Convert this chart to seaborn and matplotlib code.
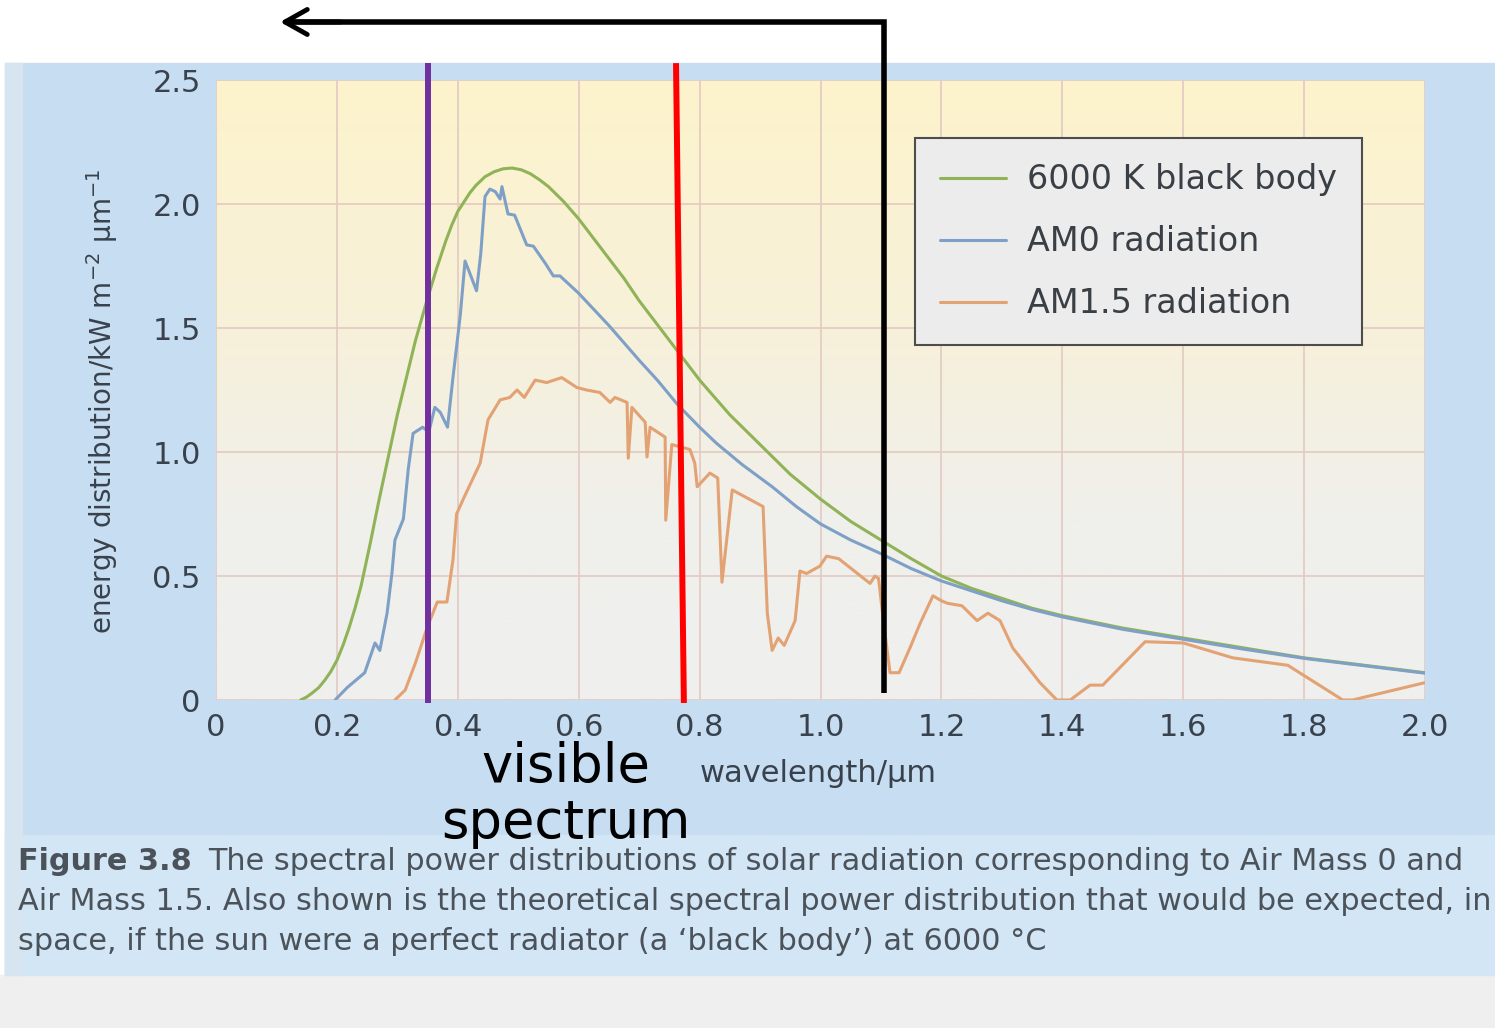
import numpy as np
import pandas as pd
import matplotlib
matplotlib.use("Agg")
import matplotlib.pyplot as plt
import seaborn as sns
from matplotlib.patches import Rectangle
from matplotlib.colors import LinearSegmentedColormap

# ---- data (wavelength in um, energy in kW m-2 um-1) ----
bb_wl = [0.14, 0.15, 0.16, 0.17, 0.18, 0.19, 0.2, 0.21, 0.22, 0.23, 0.24, 0.255, 0.27,
         0.285, 0.3, 0.315, 0.33, 0.35, 0.365, 0.38, 0.39, 0.4, 0.42, 0.43, 0.445,
         0.46, 0.475, 0.49, 0.505, 0.52, 0.535, 0.55, 0.575, 0.6, 0.625, 0.65, 0.675,
         0.7, 0.725, 0.75, 0.775, 0.8, 0.825, 0.85, 0.9, 0.95, 1.0, 1.05, 1.1, 1.15,
         1.2, 1.25, 1.3, 1.35, 1.4, 1.45, 1.5, 1.6, 1.7, 1.8, 1.9, 2.0]
bb_val = [0.0, 0.012, 0.03, 0.05, 0.08, 0.115, 0.16, 0.22, 0.29, 0.37, 0.46, 0.63, 0.81,
          0.98, 1.15, 1.3, 1.45, 1.62, 1.74, 1.85, 1.915, 1.97, 2.045, 2.075, 2.11,
          2.13, 2.142, 2.145, 2.138, 2.122, 2.098, 2.07, 2.01, 1.94, 1.86, 1.78, 1.70,
          1.61, 1.53, 1.45, 1.37, 1.29, 1.22, 1.15, 1.03, 0.91, 0.81, 0.72, 0.645, 0.57,
          0.5, 0.45, 0.41, 0.37, 0.34, 0.315, 0.29, 0.25, 0.21, 0.17, 0.14, 0.11]

am0_wl = [0.197, 0.217, 0.246, 0.263, 0.271, 0.283, 0.291, 0.296, 0.31, 0.318, 0.326,
          0.342, 0.352, 0.362, 0.371, 0.383, 0.392, 0.404, 0.412, 0.42, 0.431, 0.438,
          0.445, 0.453, 0.462, 0.47, 0.473, 0.483, 0.494, 0.514, 0.525, 0.545, 0.558,
          0.569, 0.6, 0.65, 0.7, 0.73, 0.764, 0.8, 0.828, 0.87, 0.92, 0.96, 1.0, 1.05,
          1.1, 1.15, 1.2, 1.25, 1.3, 1.35, 1.4, 1.5, 1.6, 1.7, 1.8, 1.9, 2.0]
am0_val = [0.0, 0.05, 0.11, 0.23, 0.2, 0.35, 0.51, 0.645, 0.73, 0.93, 1.075,
           1.1, 1.08, 1.18, 1.16, 1.1, 1.3, 1.55, 1.77, 1.72, 1.65, 1.8,
           2.03, 2.06, 2.05, 2.02, 2.07, 1.96, 1.955, 1.835, 1.83, 1.76, 1.71,
           1.71, 1.64, 1.51, 1.37, 1.29, 1.19, 1.10, 1.035, 0.95, 0.86, 0.78, 0.71, 0.645,
           0.59, 0.53, 0.48, 0.44, 0.40, 0.365, 0.335, 0.285, 0.245, 0.205, 0.168, 0.138,
           0.108]

am15_wl = [0.296, 0.313, 0.33, 0.349, 0.366, 0.382, 0.392, 0.398, 0.409, 0.437, 0.45,
           0.46, 0.47, 0.486, 0.498, 0.51, 0.528, 0.547, 0.572, 0.597, 0.613, 0.635,
           0.652, 0.66, 0.68, 0.682, 0.688, 0.71, 0.713, 0.718, 0.743, 0.744, 0.754,
           0.784, 0.792, 0.796, 0.817, 0.83, 0.837, 0.854, 0.905, 0.912, 0.92, 0.93,
           0.94, 0.958, 0.966, 0.977, 0.999, 1.01, 1.03, 1.082, 1.09, 1.096, 1.105,
           1.115, 1.13, 1.148, 1.165, 1.186, 1.2, 1.21, 1.234, 1.259, 1.277, 1.297,
           1.318, 1.363, 1.391, 1.413, 1.446, 1.467, 1.537, 1.6, 1.682, 1.773, 1.864,
           1.88, 2.0]
am15_val = [0.0, 0.04, 0.15, 0.29, 0.395, 0.395, 0.565, 0.75, 0.81, 0.955, 1.13,
            1.17, 1.21, 1.22, 1.25, 1.22, 1.29, 1.28, 1.3, 1.26, 1.25, 1.24,
            1.2, 1.22, 1.2, 0.975, 1.18, 1.12, 0.98, 1.1, 1.06, 0.725, 1.03,
            1.01, 0.955, 0.86, 0.915, 0.895, 0.475, 0.847, 0.78, 0.35, 0.2, 0.25,
            0.22, 0.32, 0.52, 0.51, 0.54, 0.58, 0.57, 0.47, 0.5, 0.49, 0.3,
            0.11, 0.11, 0.21, 0.31, 0.42, 0.4, 0.39, 0.38, 0.32, 0.35, 0.32,
            0.21, 0.07, 0.0, 0.0, 0.06, 0.06, 0.235, 0.23, 0.17, 0.14, 0.0,
            0.0, 0.07]

series_labels = ["6000 K black body", "AM0 radiation", "AM1.5 radiation"]
x_ticks = [0, 0.2, 0.4, 0.6, 0.8, 1.0, 1.2, 1.4, 1.6, 1.8, 2.0]
x_tick_labels = ["0", "0.2", "0.4", "0.6", "0.8", "1.0", "1.2", "1.4", "1.6", "1.8", "2.0"]
y_ticks = [0, 0.5, 1.0, 1.5, 2.0, 2.5]
y_tick_labels = ["0", "0.5", "1.0", "1.5", "2.0", "2.5"]

# hand-drawn annotations on top of the scan
violet_edge = 0.351                 # um
red_edge = [0.761, 0.774]           # top, bottom (line is slightly slanted)
cutoff = 1.105                      # um, black bracket
arrow_tip = 0.106
bracket_y = 2.734
line_top = 2.568

df_bb = pd.DataFrame({"wavelength": bb_wl, "energy": bb_val})
df_am0 = pd.DataFrame({"wavelength": am0_wl, "energy": am0_val})
df_am15 = pd.DataFrame({"wavelength": am15_wl, "energy": am15_val})

sns.set_style("white")
plt.rcParams["font.family"] = ["DejaVu Sans"]

W, H = 1495, 1028
fig = plt.figure(figsize=(W / 100, H / 100), dpi=100, facecolor="white")


def fx(px):
    return px / W


def fy(py):
    return 1 - py / H


# scanned page background
fig.add_artist(Rectangle((fx(5), fy(975)), 1, (975 - 63) / H, transform=fig.transFigure,
                         color="#c7ddf2", zorder=-10))
fig.add_artist(Rectangle((fx(5), fy(975)), 1, (975 - 835) / H, transform=fig.transFigure,
                         color="#d3e6f6", zorder=-9))
fig.add_artist(Rectangle((fx(5), fy(975)), fx(17), (975 - 63) / H, transform=fig.transFigure,
                         color="#d6e5f0", zorder=-9))
fig.add_artist(Rectangle((0, 0), 1, (1028 - 975) / H, transform=fig.transFigure,
                         color="#efeff0", zorder=-10))

ax = fig.add_axes([fx(216), fy(700), 1209 / W, 620 / H])
ax.set_facecolor("none")

# yellow-to-grey plot background
cmap = LinearSegmentedColormap.from_list(
    "bg", [(0, "#efefef"), (0.3, "#f0efeb"), (0.6, "#f7f1da"), (1, "#fdf3cb")])
grad = np.linspace(0, 1, 256).reshape(-1, 1)
ax.imshow(grad, origin="lower", extent=[0, 2, 0, 2.5], aspect="auto", cmap=cmap, zorder=0)

sns.lineplot(data=df_bb, x="wavelength", y="energy", ax=ax, color="#8fb356", lw=2.2,
             label=series_labels[0], estimator=None, sort=False)
sns.lineplot(data=df_am0, x="wavelength", y="energy", ax=ax, color="#7ea0c6", lw=2.2,
             label=series_labels[1], estimator=None, sort=False)
sns.lineplot(data=df_am15, x="wavelength", y="energy", ax=ax, color="#e3a273", lw=2.2,
             label=series_labels[2], estimator=None, sort=False)

ax.set_xlim(0, 2.0)
ax.set_ylim(0, 2.5)
ax.set_xticks(x_ticks)
ax.set_xticklabels(x_tick_labels)
ax.set_yticks(y_ticks)
ax.set_yticklabels(y_tick_labels)
ax.grid(True, color="#e2cac2", lw=1.2)
ax.set_axisbelow(True)
for s in ax.spines.values():
    s.set_visible(False)
ax.tick_params(axis="both", length=0, labelsize=22, labelcolor="#39424c")
ax.tick_params(axis="x", pad=9)
ax.tick_params(axis="y", pad=11)

ax.set_xlabel("wavelength/μm", fontsize=22, color="#39424c", va="center")
ax.xaxis.set_label_coords(0.498, -0.118)
ax.set_ylabel(r"energy distribution/kW m$^{-2}$ μm$^{-1}$", fontsize=20,
              color="#39424c", va="center")
ax.yaxis.set_label_coords(-0.094, 0.482)

leg = ax.legend(loc="upper left", bbox_to_anchor=(0.578, 0.906), borderaxespad=0,
                fontsize=24, frameon=True, fancybox=False, facecolor="#ececec",
                edgecolor="#4d4d4d", framealpha=1, handlelength=2.0,
                handletextpad=0.62, labelspacing=0.87, borderpad=0.75)
leg.get_frame().set_linewidth(1.5)
for t in leg.get_texts():
    t.set_color("#3a3f45")

# annotations drawn over the figure
ax.plot([violet_edge, violet_edge], [-0.012, line_top], color="#7030a0", lw=4.3,
        clip_on=False, zorder=6, solid_capstyle="butt")
ax.plot(red_edge, [line_top, -0.012], color="#ff0000", lw=4.3,
        clip_on=False, zorder=6, solid_capstyle="butt")
ax.plot([cutoff, cutoff, arrow_tip + 0.01], [0.028, bracket_y, bracket_y], color="black",
        lw=4, clip_on=False, zorder=6, solid_joinstyle="miter", solid_capstyle="butt")
ax.annotate("", xy=(arrow_tip, bracket_y), xytext=(arrow_tip + 0.1, bracket_y),
            arrowprops=dict(arrowstyle="->,head_length=0.8,head_width=0.45", lw=3.5,
                            color="black", mutation_scale=20, shrinkA=0, shrinkB=0),
            annotation_clip=False, zorder=6)

fig.text(fx(566), fy(795), "visible\nspectrum", ha="center", va="center", fontsize=38,
         linespacing=1.12, color="black")

# caption
cap_kw = dict(fontsize=21.8, color="#4b525a", va="center")
fig.text(fx(18), fy(862), "Figure 3.8", fontweight="bold", **cap_kw)
fig.text(fx(208), fy(862), "The spectral power distributions of solar radiation "
         "corresponding to Air Mass 0 and", **cap_kw)
fig.text(fx(18), fy(902), "Air Mass 1.5. Also shown is the theoretical spectral power "
         "distribution that would be expected, in", **cap_kw)
fig.text(fx(18), fy(941), "space, if the sun were a perfect radiator (a \u2018black body\u2019) "
         "at 6000 \u00b0C", **cap_kw)

fig.savefig("out.png", dpi=100, facecolor=fig.get_facecolor())
